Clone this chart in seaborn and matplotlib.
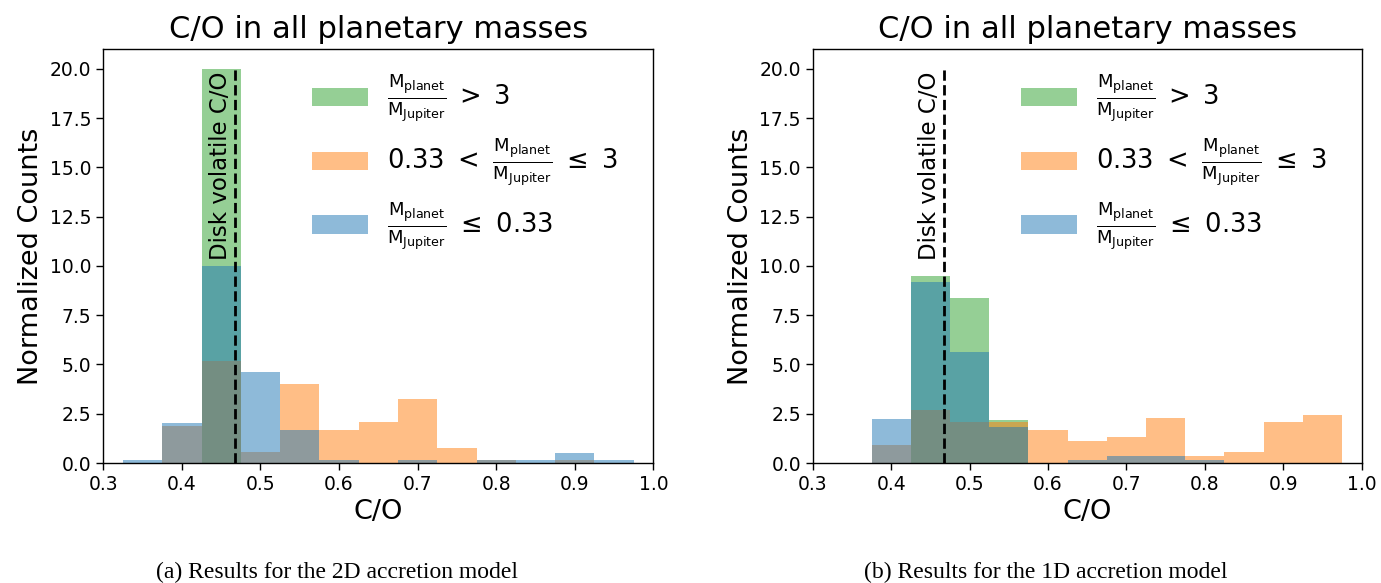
import matplotlib
matplotlib.use("Agg")
import matplotlib.pyplot as plt
from matplotlib.patches import Patch
import numpy as np
import seaborn as sns

# Histogram bins of C/O (width 0.05), given by their centres
bin_centers = [0.35, 0.40, 0.45, 0.50, 0.55, 0.60, 0.65, 0.70, 0.75, 0.80, 0.85, 0.90, 0.95]
bin_edges = [0.325, 0.375, 0.425, 0.475, 0.525, 0.575, 0.625, 0.675, 0.725, 0.775, 0.825, 0.875, 0.925, 0.975]

# Normalized counts, 2D accretion model
massive_2d = [0, 0, 20.0, 0, 0, 0, 0, 0, 0, 0, 0, 0, 0]
medium_2d = [0, 1.90, 5.15, 0.55, 4.00, 1.67, 2.10, 3.25, 0.76, 0.17, 0, 0.17, 0]
light_2d = [0.17, 2.02, 10.0, 4.62, 1.70, 0.17, 0, 0.17, 0, 0.17, 0.17, 0.51, 0.17]

# Normalized counts, 1D accretion model
massive_1d = [0, 0, 9.47, 8.35, 2.19, 0, 0, 0, 0, 0, 0, 0, 0]
medium_1d = [0, 0.93, 2.67, 2.09, 2.09, 1.68, 1.12, 1.31, 2.30, 0.36, 0.54, 2.09, 2.46]
light_1d = [0, 2.21, 9.18, 5.61, 1.85, 0, 0.15, 0.36, 0.36, 0.15, 0, 0, 0]

disk_co = 0.468

labels = [
    r'$\frac{\mathrm{M}_{\mathrm{planet}}}{\mathrm{M}_{\mathrm{Jupiter}}}\;>\;3$',
    r'$0.33\ <\ \frac{\mathrm{M}_{\mathrm{planet}}}{\mathrm{M}_{\mathrm{Jupiter}}}\ \leq\ 3$',
    r'$\frac{\mathrm{M}_{\mathrm{planet}}}{\mathrm{M}_{\mathrm{Jupiter}}}\ \leq\ 0.33$',
]
colors = ['#2ca02c', '#ff7f0e', '#1f77b4']
captions = ['(a) Results for the 2D accretion model',
            '(b) Results for the 1D accretion model']

sns.set_style("ticks", {"axes.edgecolor": "black", "xtick.color": "black",
                        "ytick.color": "black", "text.color": "black",
                        "axes.labelcolor": "black"})
plt.rcParams['font.family'] = ['DejaVu Sans']
plt.rcParams['mathtext.fontset'] = 'dejavusans'

fig = plt.figure(figsize=(13.81, 5.83), dpi=100)
ax1 = fig.add_axes([0.0748, 0.2058, 0.3983, 0.7101])
ax2 = fig.add_axes([0.5885, 0.2058, 0.3975, 0.7101])


def draw_panel(ax, series):
    for values, color, label in zip(series, colors, labels):
        sns.histplot(x=bin_centers, weights=values, bins=bin_edges, color=color,
                     alpha=0.5, linewidth=0, ax=ax, label=label)
    ax.vlines(disk_co, 0, 20, colors='k', linestyles='--', linewidth=2.0)
    ax.text(disk_co - 0.004, 19.85, 'Disk volatile C/O', rotation=90,
            ha='right', va='top', fontsize=16.5)
    ax.set_xlim(0.3, 1.0)
    ax.set_ylim(0, 21)
    ax.set_xticks(np.arange(0.3, 1.01, 0.1))
    ax.set_yticks(np.arange(0, 20.1, 2.5))
    ax.set_xlabel('C/O', fontsize=19.5)
    ax.set_ylabel('Normalized Counts', fontsize=19.5)
    ax.set_title('C/O in all planetary masses', fontsize=22, pad=8)
    ax.tick_params(labelsize=13.5, length=5, width=1)
    for s in ax.spines.values():
        s.set_linewidth(1.0)
    handles = [Patch(facecolor=c, alpha=0.5, edgecolor='none') for c in colors]
    ax.legend(handles, labels, loc='upper left', bbox_to_anchor=(0.338, 1.0),
              frameon=False, fontsize=18.5, labelspacing=0.45,
              handlelength=2.15, handleheight=0.75, handletextpad=0.75)


draw_panel(ax1, [massive_2d, medium_2d, light_2d])
draw_panel(ax2, [massive_1d, medium_1d, light_1d])

fig.text(337 / 1381, 1 - 572 / 583, captions[0], ha='center', va='center',
         family='Liberation Serif', fontsize=17)
fig.text(1046 / 1381, 1 - 572 / 583, captions[1], ha='center', va='center',
         family='Liberation Serif', fontsize=17)

fig.savefig('out.png', dpi=100)
